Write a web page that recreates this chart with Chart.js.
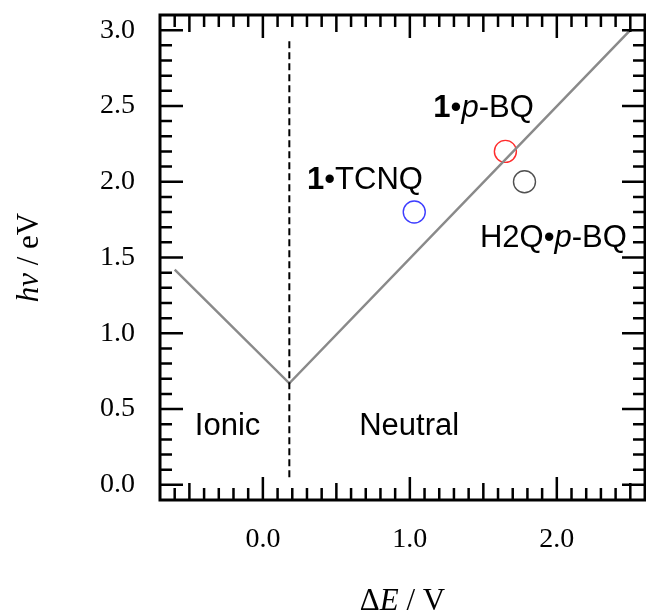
<!DOCTYPE html>
<html lang="en">
  <head>
    <meta charset="utf-8" />
    <title>hv vs dE</title>
    <script src="https://cdn.jsdelivr.net/npm/chart.js@4.4.1/dist/chart.umd.min.js"></script>
    <style>
      body { margin: 0; background: #fff; }
      canvas { display: block; }
    </style>
  </head>
  <body>
    <canvas id="vChart" width="646" height="613"></canvas>
    <script>
      // V-shaped neutral/ionic boundary curve
      const vCurveX = [-0.6, 0.18, 2.5];
      const vCurveY = [1.42, 0.67, 3.0];
      // dashed N-I boundary
      const boundaryX = [0.18, 0.18];
      const boundaryY = [0.05, 2.95];
      // CT complexes
      const complexNames = ["1•TCNQ", "1•p-BQ", "H2Q•p-BQ"];
      const complexDE = [1.03, 1.65, 1.78];
      const complexHv = [1.8, 2.2, 2.0];
      const complexColors = ["#3d3dff", "#ff2b2b", "#505050"];
      // axis ticks
      const xTickValues = [0, 1, 2];
      const xTickLabels = ["0.0", "1.0", "2.0"];
      const yTickValues = [0, 0.5, 1, 1.5, 2, 2.5, 3];
      const yTickLabels = ["0.0", "0.5", "1.0", "1.5", "2.0", "2.5", "3.0"];

      const serif = '"Liberation Serif", "Times New Roman", serif';
      const sans = '"Liberation Sans", Arial, sans-serif';

      const toPoints = (xs, ys) => xs.map((x, i) => ({ x: x, y: ys[i] }));

      // draw text made of runs with different font styles
      function drawRuns(ctx, runs, x, y, align, size, family) {
        const fontOf = (r) => (r.i ? "italic " : "") + (r.b ? "bold " : "") + size + "px " + family;
        let total = 0;
        runs.forEach((r) => {
          ctx.font = fontOf(r);
          total += ctx.measureText(r.t).width;
        });
        let cx = align === "center" ? x - total / 2 : x;
        ctx.textAlign = "left";
        ctx.textBaseline = "alphabetic";
        runs.forEach((r) => {
          ctx.font = fontOf(r);
          ctx.fillText(r.t, cx, y);
          cx += ctx.measureText(r.t).width;
        });
      }

      const frame = {
        id: "frame",
        afterDatasetsDraw(chart) {
          const ctx = chart.ctx;
          const xs = chart.scales.x;
          const ys = chart.scales.y;
          const { left, right, top, bottom } = chart.chartArea;
          ctx.save();
          ctx.strokeStyle = "#000";
          ctx.lineWidth = 2.5;
          ctx.beginPath();
          for (let i = -6; i <= 25; i++) {
            const len = i % 10 === 0 ? 23 : i % 5 === 0 ? 17 : 12;
            const px = xs.getPixelForValue(i / 10);
            ctx.moveTo(px, bottom);
            ctx.lineTo(px, bottom - len);
            ctx.moveTo(px, top);
            ctx.lineTo(px, top + len);
          }
          for (let i = 0; i <= 30; i++) {
            const len = i % 5 === 0 ? 23 : 12;
            const py = ys.getPixelForValue(i / 10);
            ctx.moveTo(left, py);
            ctx.lineTo(left + len, py);
            ctx.moveTo(right, py);
            ctx.lineTo(right - len, py);
          }
          ctx.stroke();
          ctx.lineWidth = 3;
          ctx.strokeRect(left, top, right - left, bottom - top);

          // annotations
          ctx.fillStyle = "#000";
          const at = (x, y) => [xs.getPixelForValue(x), ys.getPixelForValue(y)];
          let p = at(-0.24, 0.33);
          drawRuns(ctx, [{ t: "Ionic" }], p[0], p[1], "center", 31, sans);
          p = at(0.995, 0.33);
          drawRuns(ctx, [{ t: "Neutral" }], p[0], p[1], "center", 31, sans);
          p = at(0.3, 1.955);
          drawRuns(ctx, [{ t: "1", b: true }, { t: "•TCNQ" }], p[0], p[1], "left", 31, sans);
          p = at(1.16, 2.425);
          drawRuns(ctx, [{ t: "1", b: true }, { t: "•" }, { t: "p", i: true }, { t: "-BQ" }], p[0], p[1], "left", 31, sans);
          p = at(1.477, 1.57);
          drawRuns(ctx, [{ t: "H2Q•" }, { t: "p", i: true }, { t: "-BQ" }], p[0], p[1], "left", 31, sans);

          // axis titles
          drawRuns(ctx, [{ t: "Δ" }, { t: "E", i: true }, { t: " / V" }], (left + right) / 2, 610, "center", 31, serif);
          ctx.translate(38, (top + bottom) / 2);
          ctx.rotate(-Math.PI / 2);
          drawRuns(ctx, [{ t: "hν", i: true }, { t: " / eV" }], 0, 0, "center", 31, serif);
          ctx.restore();
        },
      };

      const ctx = document.getElementById("vChart").getContext("2d");
      const chart = new Chart(ctx, {
        type: "scatter",
        data: {
          datasets: [
            {
              label: "boundary",
              data: toPoints(boundaryX, boundaryY),
              showLine: true,
              borderColor: "#000",
              borderWidth: 2,
              borderDash: [7, 4],
              pointRadius: 0,
            },
            {
              label: "V curve",
              data: toPoints(vCurveX, vCurveY),
              showLine: true,
              borderColor: "#8a8a8a",
              borderWidth: 2.5,
              pointRadius: 0,
            },
            {
              label: "complexes",
              data: toPoints(complexDE, complexHv),
              pointRadius: 11,
              pointBorderWidth: 1.4,
              pointBorderColor: complexColors,
              pointBackgroundColor: "rgba(0,0,0,0)",
            },
          ],
        },
        options: {
          responsive: false,
          animation: false,
          layout: { autoPadding: false, padding: { top: 15, right: 1, left: 0, bottom: 0 } },
          plugins: { legend: { display: false }, tooltip: { enabled: false } },
          scales: {
            x: {
              type: "linear",
              min: -0.7,
              max: 2.6,
              grid: { display: false },
              border: { display: false },
              afterBuildTicks: (scale) => {
                scale.ticks = xTickValues.map((v) => ({ value: v }));
              },
              afterFit: (scale) => {
                scale.height = 113;
                scale.paddingLeft = 0;
                scale.paddingRight = 0;
              },
              ticks: {
                autoSkip: false,
                maxRotation: 0,
                padding: 15,
                color: "#000",
                font: { family: serif, size: 28 },
                callback: (v, i) => xTickLabels[i],
              },
            },
            y: {
              type: "linear",
              min: -0.1,
              max: 3.1,
              grid: { display: false },
              border: { display: false },
              afterBuildTicks: (scale) => {
                scale.ticks = yTickValues.map((v) => ({ value: v }));
              },
              afterFit: (scale) => {
                scale.width = 160;
                scale.paddingTop = 0;
                scale.paddingBottom = 0;
              },
              ticks: {
                autoSkip: false,
                padding: 17,
                color: "#000",
                font: { family: serif, size: 28 },
                callback: (v, i) => yTickLabels[i],
              },
            },
          },
        },
        plugins: [frame],
      });
    </script>
  </body>
</html>
